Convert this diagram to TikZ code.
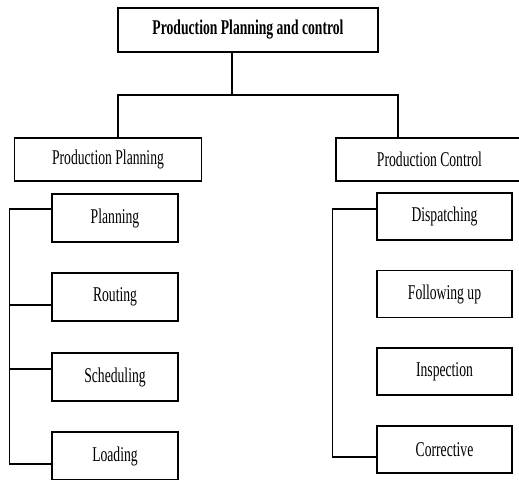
\documentclass[tikz,border=0pt]{standalone}
\usepackage{graphicx}
\usepackage{fontspec}
\setmainfont{Liberation Serif}
\usepackage{tikz}
\usetikzlibrary{positioning,calc}

\newcommand{\narrow}[1]{\scalebox{0.65}[1]{#1}}

\begin{document}
\begin{tikzpicture}[
    x=1pt, y=-1pt,
    every node/.style={font=\fontsize{21}{25}\selectfont},
    box/.style={draw, line width=1.2pt, inner sep=0pt, minimum height=47pt},
    headbox/.style={box, minimum width=260pt, minimum height=44pt, font=\fontsize{21}{25}\selectfont\bfseries},
    groupbox/.style={box, minimum width=187pt, minimum height=43pt},
    leftbox/.style={box, minimum width=126pt, minimum height=48pt},
    rightbox/.style={box, minimum width=135pt},
    link/.style={line width=1.2pt}
]
    \useasboundingbox (0,0) rectangle (519,479);
    \clip (0,0) rectangle (519,479);

    % Top level
    \node[headbox] (ppc) at (248,30) {\narrow{Production Planning and control}};

    % Second level
    \node[groupbox] (pp) at (108,159.5) {\narrow{Production Planning}};
    \node[groupbox] (pc) at (429.5,159.5) {\narrow{Production Control}};

    % Planning activities
    \node[leftbox] (plan) at (115,218) {\narrow{Planning}};
    \node[leftbox] (rout) at (115,297) {\narrow{Routing}};
    \node[leftbox] (sched) at (115,377) {\narrow{Scheduling}};
    \node[leftbox] (load) at (115,456) {\narrow{Loading}};

    % Control activities
    \node[rightbox] (disp) at (444.5,216.5) {\narrow{Dispatching}};
    \node[rightbox] (follow) at (444.5,294) {\narrow{Following up}};
    \node[rightbox] (insp) at (444.5,371.5) {\narrow{Inspection}};
    \node[rightbox] (corr) at (444.5,449.5) {\narrow{Corrective}};

    % Branch from the top box
    \coordinate (split) at (232,95);
    \draw[link] ([xshift=-16pt]ppc.south) -- (split);
    \draw[link] ([xshift=10pt]pp.north) |- (split) -| ([xshift=-31.5pt]pc.north);

    % Left bus
    \draw[link] ([yshift=9pt]plan.west) -- ++(-42,0) |- ([yshift=-8pt]load.west);
    \draw[link] ([yshift=-8pt]rout.west) -- ++(-42,0);
    \draw[link] ([yshift=8pt]sched.west) -- ++(-42,0);

    % Right bus
    \draw[link] ([yshift=7.5pt]disp.west) -- ++(-44,0) |- ([yshift=-7.5pt]corr.west);

\end{tikzpicture}
\end{document}
